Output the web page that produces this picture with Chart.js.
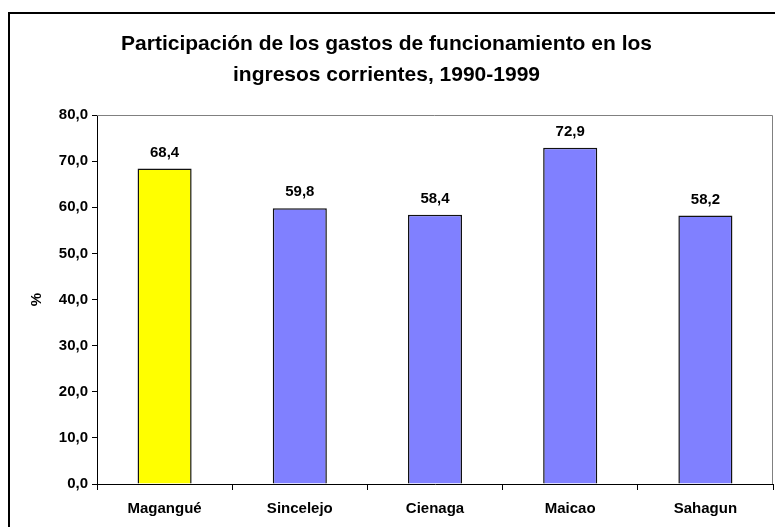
<!DOCTYPE html>
<html>
<head>
<meta charset="utf-8">
<script src="https://cdn.jsdelivr.net/npm/chart.js@4/dist/chart.umd.min.js"></script>
<style>
  body { margin: 0; background: #fff; }
  #wrap { width: 775px; height: 527px; }
</style>
</head>
<body>
<div id="wrap"><canvas id="chart" width="775" height="527"></canvas></div>
<script>
var cities = ["Magangué", "Sincelejo", "Cienaga", "Maicao", "Sahagun"];
var shares = [68.4, 59.8, 58.4, 72.9, 58.2];
var barColors = ["#FFFF00", "#8080FF", "#8080FF", "#8080FF", "#8080FF"];
var yTicks = [0, 10, 20, 30, 40, 50, 60, 70, 80];

function comma(v) {
  return v.toFixed(1).replace(".", ",");
}

// outer frame and grey top/right plot border
var frame = {
  id: "frame",
  beforeDraw: function (chart) {
    var c = chart.ctx;
    c.save();
    c.fillStyle = "#fff";
    c.fillRect(0, 0, chart.width, chart.height);
    c.strokeStyle = "#000";
    c.lineWidth = 2;
    c.strokeRect(9, 13, 800, 600);
    c.restore();
  },
  afterDatasetsDraw: function (chart) {
    var c = chart.ctx, a = chart.chartArea;
    c.save();
    c.strokeStyle = "#808080";
    c.lineWidth = 1;
    c.beginPath();
    c.moveTo(a.left, a.top + 0.5);
    c.lineTo(a.right - 0.5, a.top + 0.5);
    c.lineTo(a.right - 0.5, a.bottom);
    c.stroke();
    c.restore();
  }
};

// value labels above bars
var valueLabels = {
  id: "valueLabels",
  afterDatasetsDraw: function (chart) {
    var c = chart.ctx;
    var meta = chart.getDatasetMeta(0);
    c.save();
    c.font = "bold 15px 'Liberation Sans', Arial, sans-serif";
    c.fillStyle = "#000";
    c.textAlign = "center";
    c.textBaseline = "alphabetic";
    meta.data.forEach(function (bar, i) {
      c.fillText(comma(shares[i]), bar.x, bar.y - 12);
    });
    c.restore();
  }
};

Chart.defaults.font.family = "'Liberation Sans', Arial, sans-serif";
Chart.defaults.color = "#000";

new Chart(document.getElementById("chart"), {
  type: "bar",
  data: {
    labels: cities,
    datasets: [{
      data: shares,
      backgroundColor: barColors,
      borderColor: "#111",
      borderWidth: 1.5,
      categoryPercentage: 1,
      barPercentage: 0.4
    }]
  },
  options: {
    responsive: false,
    animation: false,
    layout: { padding: { left: 0, right: 2, top: 0, bottom: 0 } },
    plugins: {
      legend: { display: false },
      tooltip: { enabled: false },
      title: {
        display: true,
        text: ["Participación de los gastos de funcionamiento en los", "ingresos corrientes, 1990-1999"],
        font: { size: 21, weight: "bold", lineHeight: 1.5 },
        color: "#000",
        padding: { top: 28, bottom: 24 }
      }
    },
    scales: {
      x: {
        offset: true,
        grid: { offset: true, drawOnChartArea: false, drawTicks: true, tickLength: 6, color: "#000" },
        border: { color: "#000", width: 1 },
        ticks: { font: { size: 15, weight: "bold" }, padding: 10, maxRotation: 0 },
        afterFit: function (s) { s.height = 43; }
      },
      y: {
        min: 0,
        max: 80,
        afterBuildTicks: function (s) { s.ticks = yTicks.map(function (v) { return { value: v }; }); },
        grid: { drawOnChartArea: false, drawTicks: true, tickLength: 5, color: "#000" },
        border: { color: "#000", width: 1 },
        ticks: { font: { size: 15, weight: "bold" }, padding: 4, callback: function (v) { return comma(v); } },
        title: { display: true, text: "%", font: { size: 15, weight: "bold" }, padding: { top: 28, bottom: 0 } },
        afterFit: function (s) { s.width = 97; }
      }
    }
  },
  plugins: [frame, valueLabels]
});
</script>
</body>
</html>
